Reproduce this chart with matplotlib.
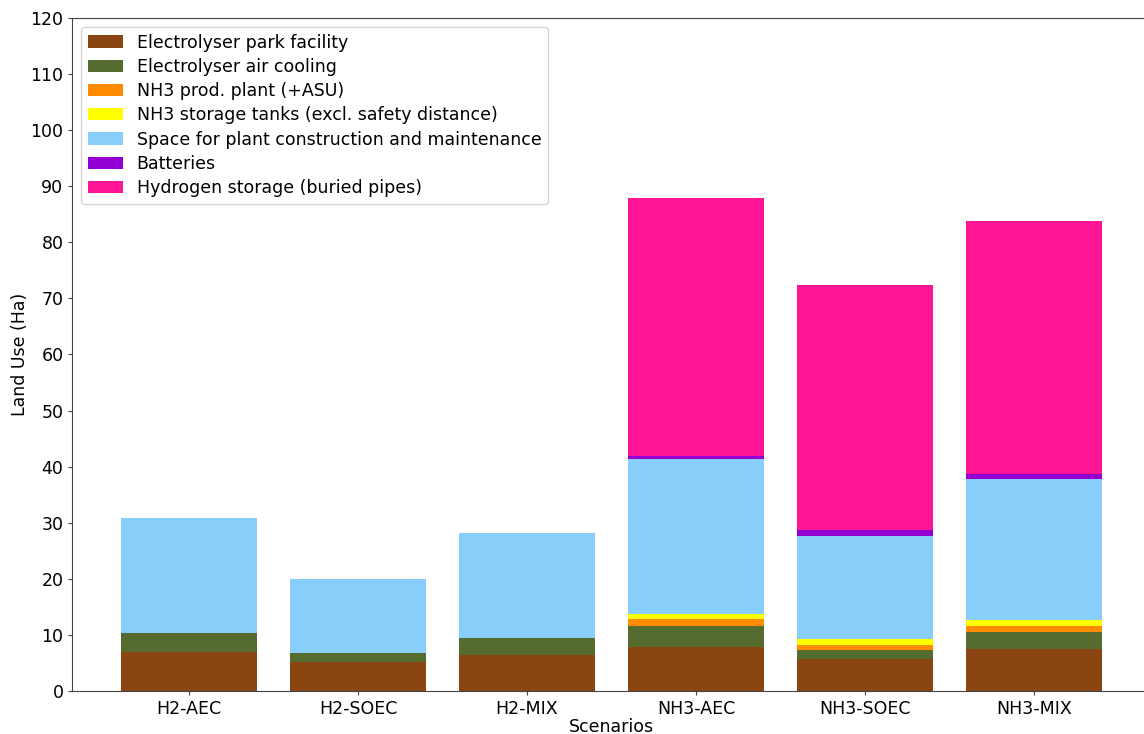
import matplotlib
matplotlib.use("Agg")
import matplotlib.pyplot as plt
import numpy as np

scenarios = ["H2-AEC", "H2-SOEC", "H2-MIX", "NH3-AEC", "NH3-SOEC", "NH3-MIX"]

electrolyser_park = [7.0, 5.2, 6.4, 7.8, 5.65, 7.4]
electrolyser_cooling = [3.3, 1.5, 3.0, 3.85, 1.6, 3.2]
nh3_plant = [0.0, 0.0, 0.0, 1.15, 0.9, 1.05]
nh3_storage = [0.0, 0.0, 0.0, 0.9, 1.05, 1.0]
construction_space = [20.5, 13.2, 18.7, 27.6, 18.5, 25.1]
batteries = [0.0, 0.0, 0.0, 0.65, 1.0, 0.9]
h2_storage = [0.0, 0.0, 0.0, 45.9, 43.7, 45.1]

series = [
    ("Electrolyser park facility", electrolyser_park, "#8B4513"),
    ("Electrolyser air cooling", electrolyser_cooling, "#556B2F"),
    ("NH3 prod. plant (+ASU)", nh3_plant, "#FF8C00"),
    ("NH3 storage tanks (excl. safety distance)", nh3_storage, "#FFFF00"),
    ("Space for plant construction and maintenance", construction_space, "#87CEFA"),
    ("Batteries", batteries, "#9400D3"),
    ("Hydrogen storage (buried pipes)", h2_storage, "#FF1493"),
]

plt.rcParams["font.size"] = 12.5
plt.rcParams["axes.edgecolor"] = "#444444"
plt.rcParams["xtick.major.size"] = 3
plt.rcParams["ytick.major.size"] = 3
plt.rcParams["xtick.color"] = "#444444"
plt.rcParams["ytick.color"] = "#444444"
plt.rcParams["xtick.labelcolor"] = "black"
plt.rcParams["ytick.labelcolor"] = "black"
fig = plt.figure(figsize=(11.44, 7.34), dpi=100)
ax = fig.add_axes([0.0633, 0.0586, 0.9425, 0.9169])

x = np.arange(len(scenarios))
bottom = np.zeros(len(scenarios))
for label, vals, color in series:
    vals = np.array(vals)
    ax.bar(x, vals, 0.8, bottom=bottom, color=color, label=label)
    bottom += vals

ax.set_xticks(x)
ax.set_xticklabels(scenarios)
ax.set_ylim(0, 120)
ax.set_yticks(np.arange(0, 121, 10))
ax.set_xlabel("Scenarios", labelpad=0)
ax.set_ylabel("Land Use (Ha)", labelpad=1)
ax.legend(loc="upper left", labelspacing=0.36)

fig.savefig("out.png", dpi=100)
